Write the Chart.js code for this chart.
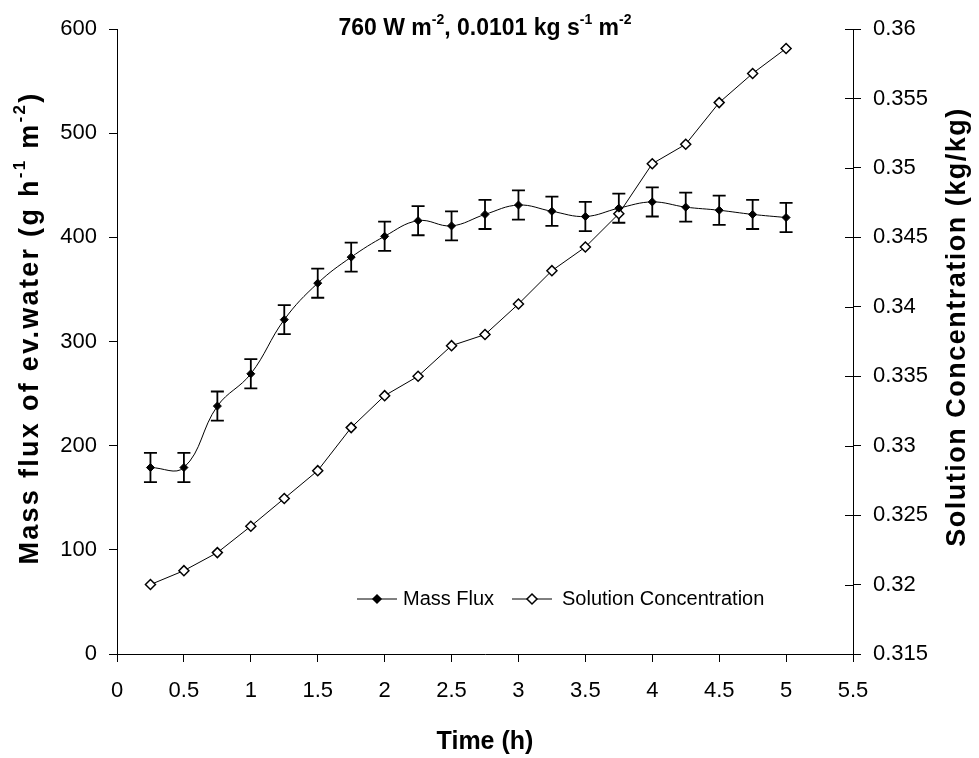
<!DOCTYPE html>
<html>
<head>
<meta charset="utf-8">
<script src="https://cdn.jsdelivr.net/npm/chart.js@4.4.1/dist/chart.umd.min.js"></script>
<style>
  html, body { margin: 0; padding: 0; background: #fff; }
  #wrap { width: 979px; height: 758px; }
</style>
</head>
<body>
<div id="wrap"><canvas id="myChart" width="979" height="758"></canvas></div>
<script>
// data
const timeH = [0.25, 0.5, 0.75, 1, 1.25, 1.5, 1.75, 2, 2.25, 2.5, 2.75, 3, 3.25, 3.5, 3.75, 4, 4.25, 4.5, 4.75, 5];
const massFlux = [179, 179, 238, 269, 321, 356, 381, 401, 416, 411, 422, 431, 425, 420, 428, 434, 429, 426, 422, 419];
const massFluxErr = [14, 14, 14, 14, 14, 14, 14, 14, 14, 14, 14, 14, 14, 14, 14, 14, 14, 14, 14, 14];
const concentration = [0.3200, 0.3210, 0.3223, 0.3242, 0.3262, 0.3282, 0.3313, 0.3336, 0.3350, 0.3372,
    0.3380, 0.3402, 0.3426, 0.3443, 0.3467, 0.3503, 0.3517, 0.3547, 0.3568, 0.3586];

const xTicks = [0, 0.5, 1, 1.5, 2, 2.5, 3, 3.5, 4, 4.5, 5, 5.5];
const xLabels = ['0', '0.5', '1', '1.5', '2', '2.5', '3', '3.5', '4', '4.5', '5', '5.5'];
const yTicks = [0, 100, 200, 300, 400, 500, 600];
const y2Ticks = [0.315, 0.32, 0.325, 0.33, 0.335, 0.34, 0.345, 0.35, 0.355, 0.36];
const y2Labels = ['0.315', '0.32', '0.325', '0.33', '0.335', '0.34', '0.345', '0.35', '0.355', '0.36'];

const seriesNames = ['Mass Flux', 'Solution Concentration'];
const chartTitle = [['760 W m'], ['-2', 1], [', 0.0101 kg s'], ['-1', 1], [' m'], ['-2', 1]];
const leftTitle = [['Mass flux of ev.water (g h'], ['-1', 1], [' m'], ['-2', 1], [')']];
const rightTitle = [['Solution Concentration (kg/kg)']];
const xTitle = [['Time (h)']];

const FONT = '"Liberation Sans", Arial, sans-serif';

// text with superscripts, optional extra letter spacing
function setFont(ctx, size, spacing) {
    ctx.font = 'bold ' + size + 'px ' + FONT;
    if ('letterSpacing' in ctx) ctx.letterSpacing = spacing + 'px';
}
function drawRich(ctx, parts, size, cx, cy, spacing) {
    spacing = spacing || 0;
    const sup = Math.round(size * 0.62);
    let w = 0;
    for (const p of parts) {
        setFont(ctx, p[1] ? sup : size, spacing);
        w += ctx.measureText(p[0]).width;
    }
    let x = cx - w / 2;
    ctx.textBaseline = 'middle';
    ctx.textAlign = 'left';
    ctx.fillStyle = '#000';
    for (const p of parts) {
        setFont(ctx, p[1] ? sup : size, spacing);
        ctx.fillText(p[0], x, p[1] ? cy - size * 0.38 : cy);
        x += ctx.measureText(p[0]).width;
    }
    if ('letterSpacing' in ctx) ctx.letterSpacing = '0px';
}

function tickArr(values) {
    return scale => { scale.ticks = values.map(v => ({ value: v })); };
}

const decorPlugin = {
    id: 'decor',
    beforeDatasetsDraw(chart) {
        // error bars
        const ctx = chart.ctx;
        const xs = chart.scales.x, ys = chart.scales.y;
        ctx.save();
        ctx.strokeStyle = '#000';
        ctx.lineWidth = 1.8;
        for (let i = 0; i < timeH.length; i++) {
            const px = xs.getPixelForValue(timeH[i]);
            const top = ys.getPixelForValue(massFlux[i] + massFluxErr[i]);
            const bot = ys.getPixelForValue(massFlux[i] - massFluxErr[i]);
            ctx.beginPath();
            ctx.moveTo(px, top); ctx.lineTo(px, bot);
            ctx.moveTo(px - 6.5, top); ctx.lineTo(px + 6.5, top);
            ctx.moveTo(px - 6.5, bot); ctx.lineTo(px + 6.5, bot);
            ctx.stroke();
        }
        ctx.restore();
    },
    afterDraw(chart) {
        const ctx = chart.ctx;
        const area = chart.chartArea;
        const y2 = chart.scales.y2;
        ctx.save();
        // inner half of the right axis ticks
        ctx.strokeStyle = '#000';
        ctx.lineWidth = 1;
        for (const t of y2.ticks) {
            const py = Math.round(y2.getPixelForValue(t.value)) + 0.5;
            ctx.beginPath();
            ctx.moveTo(area.right - 8, py); ctx.lineTo(area.right, py);
            ctx.stroke();
        }
        // titles
        drawRich(ctx, chartTitle, 23, (area.left + area.right) / 2, 29);
        drawRich(ctx, xTitle, 25, (area.left + area.right) / 2, 742);
        ctx.save();
        ctx.translate(31, 328);
        ctx.rotate(-Math.PI / 2);
        drawRich(ctx, leftTitle, 27, 0, 0, 2.3);
        ctx.restore();
        ctx.save();
        ctx.translate(958, 327);
        ctx.rotate(-Math.PI / 2);
        drawRich(ctx, rightTitle, 27, 0, 0, 1.5);
        ctx.restore();

        // legend
        const ly = 599;
        const entries = [
            { x: 357, tx: 403, fill: '#000', r: 4 },
            { x: 512, tx: 562, fill: '#fff', r: 5 }
        ];
        entries.forEach((e, i) => {
            ctx.strokeStyle = '#000';
            ctx.lineWidth = 1;
            ctx.beginPath();
            ctx.moveTo(e.x, ly); ctx.lineTo(e.x + 40, ly);
            ctx.stroke();
            ctx.beginPath();
            ctx.moveTo(e.x + 20, ly - e.r); ctx.lineTo(e.x + 20 + e.r, ly);
            ctx.lineTo(e.x + 20, ly + e.r); ctx.lineTo(e.x + 20 - e.r, ly);
            ctx.closePath();
            ctx.fillStyle = e.fill;
            ctx.fill();
            ctx.lineWidth = 1.5;
            ctx.stroke();
            ctx.fillStyle = '#000';
            ctx.font = '20px ' + FONT;
            ctx.textAlign = 'left';
            ctx.textBaseline = 'middle';
            ctx.fillText(seriesNames[i], e.tx, ly);
        });
        ctx.restore();
    }
};

const axisCommon = {
    border: { color: '#000', width: 1 },
    grid: { drawOnChartArea: false, color: '#000', tickLength: 8, tickWidth: 1 },
    ticks: { color: '#000', font: { family: FONT, size: 22 } }
};

const ctx = document.getElementById('myChart').getContext('2d');
const chart = new Chart(ctx, {
    type: 'line',
    data: {
        datasets: [
            {
                label: seriesNames[0],
                data: timeH.map((t, i) => ({ x: t, y: massFlux[i] })),
                yAxisID: 'y',
                borderColor: '#000',
                borderWidth: 1,
                tension: 0.4,
                pointStyle: 'rectRot',
                pointRadius: 4,
                pointBackgroundColor: '#000',
                pointBorderColor: '#000',
                pointBorderWidth: 1
            },
            {
                label: seriesNames[1],
                data: timeH.map((t, i) => ({ x: t, y: concentration[i] })),
                yAxisID: 'y2',
                borderColor: '#000',
                borderWidth: 1,
                tension: 0,
                pointStyle: 'rectRot',
                pointRadius: 5,
                pointBackgroundColor: '#fff',
                pointBorderColor: '#000',
                pointBorderWidth: 1.5
            }
        ]
    },
    options: {
        responsive: false,
        animation: false,
        devicePixelRatio: 1,
        layout: { padding: { top: 29, left: 0, right: 0, bottom: 0 } },
        plugins: {
            legend: { display: false },
            title: { display: false },
            tooltip: { enabled: false }
        },
        scales: {
            x: {
                ...axisCommon,
                type: 'linear',
                min: 0, max: 5.5,
                afterBuildTicks: tickArr(xTicks),
                afterFit: s => { s.height = 104; },
                ticks: { ...axisCommon.ticks, padding: 16, maxRotation: 0, callback: (v, i) => xLabels[i] }
            },
            y: {
                ...axisCommon,
                position: 'left',
                min: 0, max: 600,
                afterBuildTicks: tickArr(yTicks),
                afterFit: s => { s.width = 117; },
                ticks: { ...axisCommon.ticks, padding: 12 }
            },
            y2: {
                ...axisCommon,
                position: 'right',
                min: 0.315, max: 0.36,
                afterBuildTicks: tickArr(y2Ticks),
                afterFit: s => { s.width = 126; },
                ticks: { ...axisCommon.ticks, padding: 12, callback: (v, i) => y2Labels[i] }
            }
        }
    },
    plugins: [decorPlugin]
});
</script>
</body>
</html>
